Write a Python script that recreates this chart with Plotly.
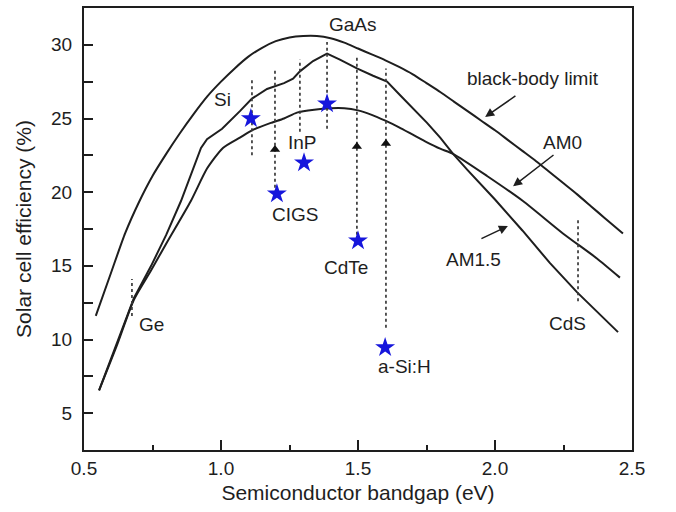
import plotly.graph_objects as go

# ---- curve data (bandgap eV, efficiency %) ----
bb_x = [0.543, 0.60, 0.65, 0.70, 0.75, 0.80, 0.85, 0.90, 0.95, 1.00, 1.05, 1.10, 1.15, 1.20,
        1.25, 1.30, 1.35, 1.40, 1.45, 1.50, 1.55, 1.60, 1.65, 1.70, 1.75, 1.80, 1.85, 1.90,
        1.95, 2.00, 2.05, 2.10, 2.15, 2.20, 2.25, 2.30, 2.35, 2.40, 2.467]
bb_y = [11.6, 14.6, 17.2, 19.3, 21.1, 22.6, 24.0, 25.3, 26.5, 27.5, 28.4, 29.2, 29.8, 30.25,
        30.5, 30.6, 30.6, 30.45, 30.15, 29.75, 29.35, 28.95, 28.5, 28.0, 27.4, 26.8, 26.15, 25.5,
        24.85, 24.2, 23.5, 22.8, 22.1, 21.35, 20.6, 19.85, 19.05, 18.25, 17.2]

am15_x = [0.555, 0.62, 0.682, 0.745, 0.80, 0.854, 0.898, 0.927, 0.949, 1.004, 1.069, 1.113,
          1.168, 1.23, 1.263, 1.288, 1.336, 1.387, 1.434, 1.496, 1.555, 1.606, 1.653, 1.701,
          1.752, 1.80, 1.847, 1.90, 2.00, 2.10, 2.20, 2.30, 2.40, 2.449]
am15_y = [6.55, 9.7, 12.8, 15.0, 17.1, 19.4, 21.6, 23.0, 23.6, 24.3, 25.5, 26.35,
          27.0, 27.4, 27.7, 28.2, 28.9, 29.4, 29.0, 28.4, 27.9, 27.5, 26.6, 25.7,
          24.7, 23.7, 22.6, 21.5, 19.5, 17.4, 15.2, 13.2, 11.4, 10.5]

am0_x = [0.555, 0.62, 0.682, 0.745, 0.803, 0.89, 0.949, 1.007, 1.069, 1.113, 1.182, 1.23,
         1.277, 1.34, 1.40, 1.45, 1.50, 1.55, 1.60, 1.65, 1.70, 1.75, 1.80, 1.847, 1.971,
         2.102, 2.248, 2.372, 2.456]
am0_y = [6.55, 9.6, 12.7, 14.7, 16.6, 19.4, 21.6, 23.0, 23.7, 24.2, 24.7, 25.0,
         25.4, 25.6, 25.7, 25.7, 25.55, 25.25, 24.85, 24.4, 23.9, 23.4, 22.95, 22.6, 21.1,
         19.4, 17.2, 15.5, 14.2]

# ---- record cells (stars) ----
cell_names = ["Si", "CIGS", "InP", "GaAs", "CdTe", "a-Si:H"]
cell_gap = [1.109, 1.204, 1.303, 1.387, 1.500, 1.599]
cell_eff = [25.0, 19.9, 22.0, 26.0, 16.7, 9.46]

# ---- vertical dotted markers ----
dot_x = [0.675, 1.113, 1.197, 1.288, 1.387, 1.496, 1.602, 2.303]
dot_lo = [11.6, 22.5, 19.9, 24.1, 24.3, 16.7, 10.8, 12.6]
dot_hi = [14.1, 27.7, 28.4, 29.0, 30.2, 29.3, 28.4, 18.3]

arrow_x = [1.197, 1.496, 1.602]
arrow_y = [22.9, 23.1, 23.3]

# ---- axis ticks ----
x_ticks = [0.5, 1.0, 1.5, 2.0, 2.5]
x_ticktext = ["0.5", "1.0", "1.5", "2.0", "2.5"]
y_ticks = [5, 10, 15, 20, 25, 30]

FONT = "Liberation Sans, Arial, sans-serif"
INK = "#1e1e1e"

fig = go.Figure()

for xs, ys, shp in [(bb_x, bb_y, "spline"), (am0_x, am0_y, "spline"), (am15_x, am15_y, "linear")]:
    fig.add_trace(go.Scatter(x=xs, y=ys, mode="lines",
                             line=dict(color=INK, width=2, shape=shp, smoothing=0.6),
                             hoverinfo="skip"))

for xv, lo, hi in zip(dot_x, dot_lo, dot_hi):
    fig.add_trace(go.Scatter(x=[xv, xv], y=[lo, hi], mode="lines",
                             line=dict(color="#3a3a3a", width=1.7, dash="dot"),
                             hoverinfo="skip"))

fig.add_trace(go.Scatter(x=arrow_x, y=arrow_y, mode="markers",
                         marker=dict(symbol="triangle-up", size=9, color="#111111",
                                     line=dict(width=0)),
                         hoverinfo="skip"))

fig.add_trace(go.Scatter(x=cell_gap, y=cell_eff, mode="markers",
                         marker=dict(symbol="star", size=15, color="#1616dc",
                                     line=dict(width=0)),
                         text=cell_names, hoverinfo="text"))

labels = [
    ("GaAs", 1.482, 31.4), ("Si", 1.004, 26.3), ("InP", 1.299, 23.4),
    ("CIGS", 1.27, 18.5), ("CdTe", 1.456, 14.9), ("a-Si:H", 1.668, 8.2),
    ("Ge", 0.748, 11.0), ("CdS", 2.263, 11.1), ("AM1.5", 1.92, 15.4),
    ("AM0", 2.248, 23.4), ("black-body limit", 2.139, 27.7),
]
for t, xv, yv in labels:
    fig.add_annotation(x=xv, y=yv, text=t, showarrow=False,
                       font=dict(family=FONT, size=19, color=INK))

pointers = [
    ((2.080, 26.6), (1.964, 25.1)),
    ((2.219, 22.6), (2.066, 20.4)),
    ((1.945, 16.8), (2.047, 17.7)),
]
for (tx, ty), (hx, hy) in pointers:
    fig.add_annotation(x=hx, y=hy, ax=tx, ay=ty, axref="x", ayref="y",
                       xref="x", yref="y", text="", showarrow=True,
                       arrowhead=2, arrowsize=1.2, arrowwidth=1.5, arrowcolor=INK)

fig.update_layout(
    width=676, height=512,
    margin=dict(l=84, r=44, t=6, b=62),
    plot_bgcolor="white", paper_bgcolor="white",
    showlegend=False,
    font=dict(family=FONT, color=INK),
)
fig.update_xaxes(
    range=[0.5, 2.5], tickvals=x_ticks, ticktext=x_ticktext,
    ticks="inside", ticklen=10, tickwidth=1.5, tickcolor=INK,
    showline=True, linewidth=2, linecolor=INK, mirror=True,
    showgrid=False, zeroline=False,
    minor=dict(ticks="inside", ticklen=5, tickwidth=1.5, tickcolor=INK, tick0=0.5, dtick=0.25),
    tickfont=dict(family=FONT, size=19, color=INK),
    title=dict(text="Semiconductor bandgap (eV)", font=dict(family=FONT, size=21, color=INK),
               standoff=8),
)
fig.update_yaxes(
    range=[2.5, 32.5], tickvals=y_ticks,
    ticks="inside", ticklen=9, tickwidth=1.5, tickcolor=INK,
    showline=True, linewidth=2, linecolor=INK, mirror=True,
    showgrid=False, zeroline=False,
    minor=dict(ticks="inside", ticklen=9, tickwidth=1.5, tickcolor=INK, tick0=2.5, dtick=2.5),
    tickfont=dict(family=FONT, size=19, color=INK),
    ticklabelstandoff=6,
    title=dict(text="Solar cell efficiency (%)", font=dict(family=FONT, size=21, color=INK),
               standoff=14),
)

fig.write_html("out.html")
